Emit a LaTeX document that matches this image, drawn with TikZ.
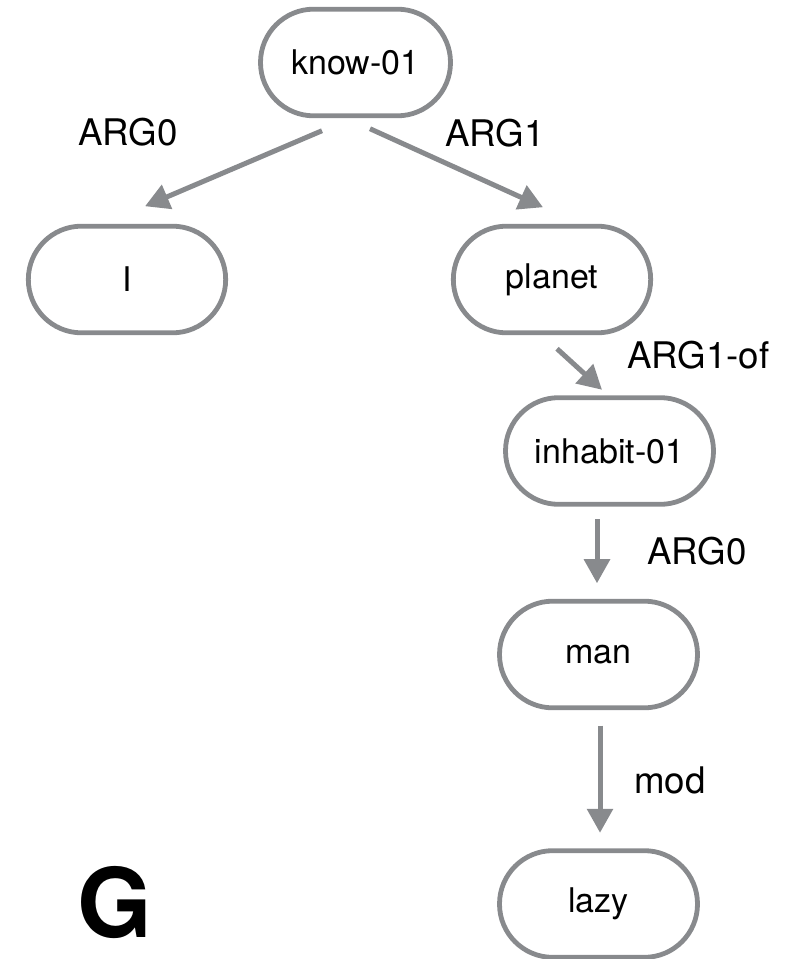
\documentclass[tikz,border=0pt]{standalone}
\usepackage{fontspec}
\setmainfont{TeX Gyre Heros}
\usetikzlibrary{arrows.meta,calc}
\definecolor{edgegrey}{HTML}{888A8D}
\tikzset{
  amr/.style={draw=edgegrey, line width=3.6pt, rounded corners=39.9pt,
    minimum height=80pt, inner sep=0pt, text=black,
    font=\fontsize{25.5}{30}\selectfont},
  rel/.style={draw=edgegrey, line width=3.75pt,
    -{Triangle[length=18pt,width=19pt]}},
  lab/.style={anchor=base west, inner sep=0pt, text=black,
    font=\fontsize{27.5}{32}\selectfont}
}
\begin{document}
\begin{tikzpicture}[x=0.75pt,y=-0.75pt]
\useasboundingbox (0,0) rectangle (799,959);
\node[amr, minimum width=142.5pt] (know) at (355.5,62.5) {know-01};
\node[amr, minimum width=148pt] (I) at (127,279.5) {I};
\node[amr, minimum width=148pt] (planet) at (552,279.5) {planet};
\node[amr, minimum width=156pt] (inhabit) at (609.5,451) {inhabit-01};
\node[amr, minimum width=148.5pt] (man) at (598.5,654.5) {man};
\node[amr, minimum width=148.5pt] (lazy) at (598.5,904) {lazy};

\draw[rel] ($(know.south)+(-33.5,12.5)$) -- ($(I.north)+(18,-17.5)$);
\draw[rel] ($(know.south)+(14.5,10.5)$) -- ($(planet.north)+(-9,-16.5)$);
\draw[rel] ($(planet.south)+(5,13.5)$) -- ($(inhabit.north)+(-7.5,-5.5)$);
\draw[rel] ($(inhabit.south)+(-12.5,12.5)$) -- ($(inhabit.south)+(-12.5,76.5)$);
\draw[rel] ($(man.south)+(1.5,15.5)$) -- ($(lazy.north)+(1.5,-15.5)$);

\node[lab] (l1) at (78,146) {ARG0};
\node[lab] (l2) at (445,147) {ARG1};
\node[lab] (l3) at (627,368) {ARG1-of};
\node[lab] (l4) at (647,564) {ARG0};
\node[lab] (l5) at (634,793) {mod};
\node[anchor=base west, inner sep=0pt, font=\fontsize{72}{80}\selectfont\bfseries] (g) at (77,937) {G};
\end{tikzpicture}
\end{document}
